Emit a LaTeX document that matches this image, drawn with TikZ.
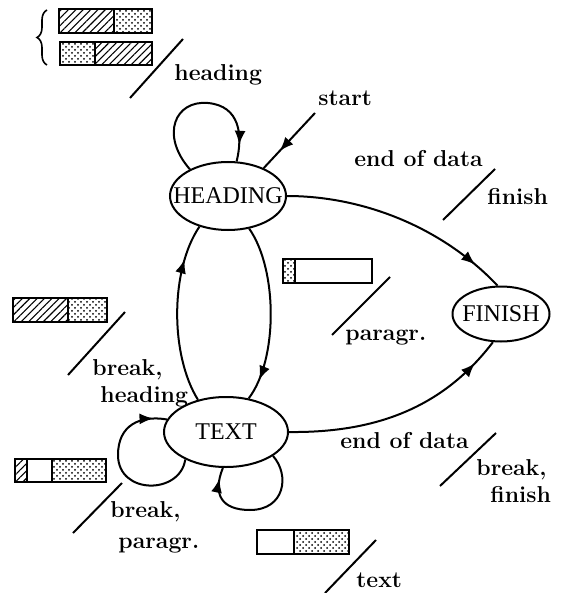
\documentclass[tikz,border=0pt]{standalone}
\usepackage{fontspec}
\newfontfamily\statefont{Liberation Serif}
\usetikzlibrary{shapes.geometric,arrows.meta,decorations.markings,decorations.pathreplacing,patterns,patterns.meta}
\tikzset{
  state/.style={ellipse, draw, line width=1pt, inner sep=0pt, font=\statefont\fontsize{12}{14}\selectfont},
  lbl/.style={anchor=base west, inner sep=0pt, font=\fontsize{11.5}{13}\selectfont\bfseries},
  trans/.style={line width=1pt},
  slash/.style={line width=1pt},
  bar/.style={draw, line width=1pt},
  hatch/.style={pattern={Lines[angle=45, distance=2.6pt, line width=0.55pt]}},
  speckle/.style={pattern=crosshatch dots},
  midarrow/.style={postaction={decorate},decoration={markings,mark=at position #1 with {\arrow{Latex[length=7pt,width=5.5pt]}}}},
}
\begin{document}
\begin{tikzpicture}[x=0.5pt,y=-0.5pt]
\useasboundingbox (0,0) rectangle (562,593);
% states
\node[state, minimum width=58pt, minimum height=34pt] (heading) at (228,196) {\makebox[0pt]{HEADING}};
\node[state, minimum width=62pt, minimum height=35pt] (text) at (226,432) {\makebox[0pt]{TEXT}};
\node[state, minimum width=48.5pt, minimum height=27.5pt] (finish) at (501,314) {\makebox[0pt]{FINISH}};
\coordinate (startpt) at (315,113);
% transitions
\draw[trans, midarrow=0.69] (startpt) -- (heading.38);
\draw[trans, midarrow=0.9] (heading.145) .. controls (160,135) and (175,100) .. (208,103) .. controls (240,106) and (243,135) .. (heading.76);
\draw[trans, midarrow=0.87] (heading.0) .. controls (360,196) and (440,225) .. (finish.97);
\draw[trans, midarrow=0.88] (heading.303) .. controls (278,270) and (278,360) .. (text.56);
\draw[trans, midarrow=0.8] (text.131) .. controls (170,355) and (170,270) .. (heading.227);
\draw[trans, midarrow=0.88] (text.0) .. controls (380,433) and (445,405) .. (finish.254);
\draw[trans, midarrow=0.92] (text.214) .. controls (180,495) and (118,495) .. (118,455) .. controls (118,425) and (140,415) .. (text.168);
\draw[trans, midarrow=0.92] (text.333) .. controls (290,475) and (285,510) .. (250,510) .. controls (222,510) and (212,495) .. (text.265);
% labels
\node[lbl] (lblstart) at (318,106) {start};
\node[lbl] (lblhead) at (174,81) {heading};
\node[lbl] (lbleod1) at (354,167) {end of data};
\node[lbl] (lblfin1) at (487,205) {finish};
\node[lbl] (lblpar) at (345,340) {paragr.};
\node[lbl] (lblbrk1) at (92,375) {break,};
\node[lbl] (lblhead2) at (100,402) {heading};
\node[lbl] (lbleod2) at (340,448) {end of data};
\node[lbl] (lblbrk2) at (476,475) {break,};
\node[lbl] (lblfin2) at (490,502) {finish};
\node[lbl] (lblbrk3) at (110,517) {break,};
\node[lbl] (lblpar2) at (118,548) {paragr.};
\node[lbl] (lbltext) at (356,587) {text};
% slashes
\draw[slash] (130,98) -- (183,39);
\draw[slash] (443,220) -- (495,169);
\draw[slash] (332,335) -- (390,277);
\draw[slash] (68,375) -- (125,312);
\draw[slash] (440,486) -- (496,433);
\draw[slash] (73,533) -- (122,483);
\draw[slash] (325,593) -- (376,540);
% buffer bars
\draw[decorate, decoration={brace, amplitude=5pt}, line width=0.8pt] (47,65) -- (47,10);
\draw[bar, hatch] (59,9) rectangle (114,33);
\draw[bar, speckle] (114,9) rectangle (152,33);
\draw[bar, speckle] (60,42) rectangle (95,65);
\draw[bar, hatch] (95,42) rectangle (152,65);
\draw[bar, speckle] (283,259) rectangle (295,283);
\draw[bar] (295,259) rectangle (372,283);
\draw[bar, hatch] (13,298) rectangle (68,322);
\draw[bar, speckle] (68,298) rectangle (107,322);
\draw[bar, hatch] (15,459) rectangle (27,482);
\draw[bar] (27,459) rectangle (52,482);
\draw[bar, speckle] (52,459) rectangle (106,482);
\draw[bar] (257,530) rectangle (294,554);
\draw[bar, speckle] (294,530) rectangle (349,554);
\end{tikzpicture}
\end{document}
